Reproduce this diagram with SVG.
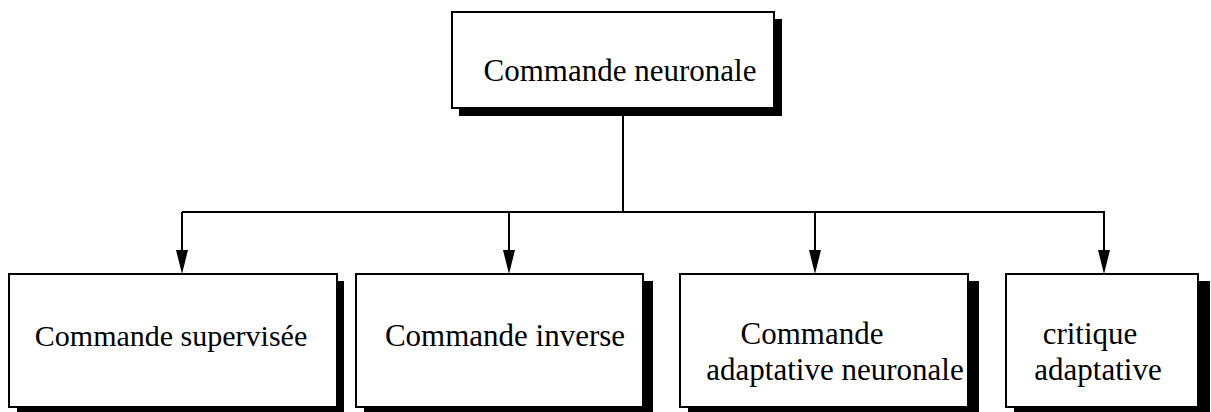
<svg xmlns="http://www.w3.org/2000/svg" width="1211" height="412" viewBox="0 0 1211 412">
<style>
.box{fill:#fff;stroke:#000;stroke-width:2}
.sh{fill:#000}
.t{font-family:"Liberation Serif","Times New Roman",serif;font-size:31px;fill:#000;text-anchor:middle}
.c{stroke:#000;stroke-width:2;fill:none}
.ah{fill:#000}
</style>
<rect width="1211" height="412" fill="#fff"/>
<g id="connectors">
<line class="c" x1="623" y1="110" x2="623" y2="212"/>
<line class="c" x1="182" y1="212" x2="1105" y2="212"/>
<line class="c" x1="182" y1="212" x2="182" y2="250"/>
<path class="ah" d="M176,250 L188,250 L182,274 Z"/>
<line class="c" x1="509" y1="212" x2="509" y2="250"/>
<path class="ah" d="M503,250 L515,250 L509,274 Z"/>
<line class="c" x1="815" y1="212" x2="815" y2="250"/>
<path class="ah" d="M809,250 L821,250 L815,274 Z"/>
<line class="c" x1="1104" y1="212" x2="1104" y2="250"/>
<path class="ah" d="M1098,250 L1110,250 L1104,274 Z"/>
</g>
<g id="n0">
<rect class="sh" x="459" y="19" width="323" height="97"/>
<rect class="box" x="452" y="12" width="322" height="96"/>
<text class="t" x="620" y="81">Commande neuronale</text>
</g>
<g id="n1">
<rect class="sh" x="17" y="281" width="327" height="131"/>
<rect class="box" x="9" y="274" width="328" height="133"/>
<text class="t" x="171" y="346" style="font-size:30px">Commande supervisée</text>
</g>
<g id="n2">
<rect class="sh" x="364" y="281" width="289" height="131"/>
<rect class="box" x="356" y="274" width="287" height="133"/>
<text class="t" x="505" y="346">Commande inverse</text>
</g>
<g id="n3">
<rect class="sh" x="688" y="281" width="291" height="131"/>
<rect class="box" x="680" y="274" width="288" height="133"/>
<text class="t" x="812" y="344">Commande</text>
<text class="t" x="835" y="380">adaptative neuronale</text>
</g>
<g id="n4">
<rect class="sh" x="1014" y="281" width="196" height="131"/>
<rect class="box" x="1006" y="274" width="192" height="133"/>
<text class="t" x="1090" y="344">critique</text>
<text class="t" x="1098" y="380">adaptative</text>
</g>
</svg>
